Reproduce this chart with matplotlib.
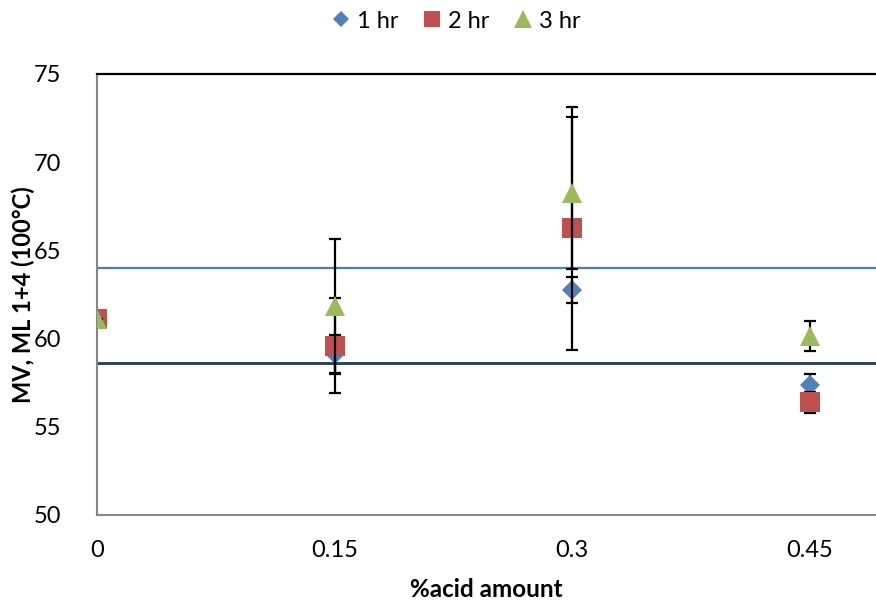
import matplotlib
matplotlib.use("Agg")
import matplotlib.pyplot as plt
from matplotlib.lines import Line2D

plt.rcParams['font.family'] = ['Lato', 'DejaVu Sans']

# Acid amount (%) and Mooney viscosity readings per cure time
acid = [0.0, 0.15, 0.30, 0.45]
mv_1hr = [61.1, 59.1, 62.75, 57.35]
mv_2hr = [61.1, 59.6, 66.25, 56.4]
mv_3hr = [61.1, 61.85, 68.25, 60.15]
err_1hr = [0.0, 1.1, 0.73, 0.65]
err_2hr = [0.0, 2.7, 6.9, 0.6]
err_3hr = [0.0, 3.8, 4.3, 0.85]

# Specification limits
upper_limit = 64.0
lower_limit = 58.6

x_ticks = [0, 0.15, 0.3, 0.45]
x_tick_labels = ["0", "0.15", "0.3", "0.45"]
y_ticks = [50, 55, 60, 65, 70, 75]

fig = plt.figure(figsize=(8.76, 6.01), dpi=100)
ax = fig.add_axes([0.1107, 0.1431, 0.8893, 0.7338])

series = [
    ("1 hr", mv_1hr, err_1hr, "D", 10, "#4F81BD"),
    ("2 hr", mv_2hr, err_2hr, "s", 14, "#C0504D"),
    ("3 hr", mv_3hr, err_3hr, "^", 14.5, "#9BBB59"),
]

ax.axhline(upper_limit, color="#4A7EBB", lw=1.6, zorder=1)
ax.axhline(lower_limit, color="#1F3864", lw=2.0, zorder=1)

handles = []
for i, (name, vals, errs, mk, ms, col) in enumerate(series):
    ax.errorbar(acid, vals, yerr=errs, fmt="none", ecolor="black",
                elinewidth=1.6, capsize=4.4, capthick=1.6, zorder=2 + 2 * i)
    ax.plot(acid, vals, linestyle="none", marker=mk, markersize=ms,
            color=col, markeredgewidth=0, zorder=3 + 2 * i)
    handles.append(Line2D([], [], linestyle="none", marker=mk,
                          markersize=ms * 0.85, color=col,
                          markeredgewidth=0, label=name))

ax.set_xlim(0, 0.4917)
ax.set_ylim(50, 75)
ax.set_xticks(x_ticks)
ax.set_xticklabels(x_tick_labels)
ax.set_yticks(y_ticks)
ax.tick_params(axis="both", length=0, labelsize=17, colors="black")
ax.tick_params(axis="y", pad=26)
ax.tick_params(axis="x", pad=18)

for s in ("left", "bottom"):
    ax.spines[s].set_color("#868686")
    ax.spines[s].set_linewidth(1.5)
ax.spines["right"].set_visible(False)
ax.spines["top"].set_color("black")
ax.spines["top"].set_linewidth(1.6)

ax.set_xlabel("%acid amount", fontsize=17.5, fontweight="bold", labelpad=12)
ax.set_ylabel("MV, ML 1+4 (100°C)", fontsize=17, fontweight="bold",
              va="center")
ax.yaxis.set_label_coords(-0.094, 0.5)

fig.legend(handles=handles, loc="center", bbox_to_anchor=(0.522, 0.965),
           ncol=3, frameon=False, fontsize=17, handlelength=0.6,
           handletextpad=0.4, columnspacing=1.1)

fig.savefig("out.png", dpi=100)
